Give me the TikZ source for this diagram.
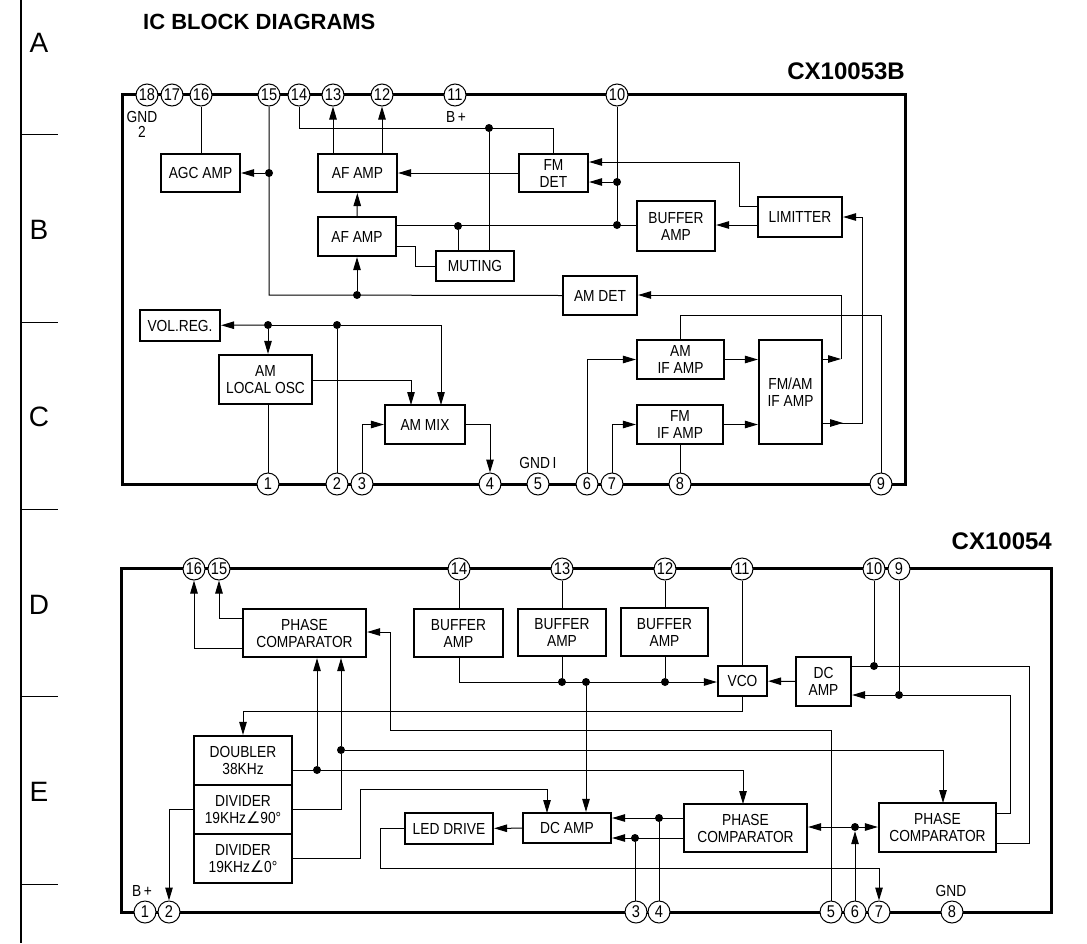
\documentclass[tikz,border=0pt]{standalone}
\usepackage{fontspec}
\setmainfont{Liberation Sans}
\newfontfamily\lettering[FakeStretch=0.86]{Liberation Sans}
\newfontfamily\anglefont{DejaVu Sans}
\usetikzlibrary{arrows.meta}

\begin{document}
\begin{tikzpicture}[
        x=1pt, y=-1pt,
        >={Triangle[length=13pt,width=7.5pt]},
        block/.style={rectangle, draw=black, line width=2.2pt, align=center, inner sep=0pt, font=\lettering\fontsize{16}{17}\selectfont},
        pinnode/.style={circle, draw=black, fill=white, line width=1pt, minimum size=22pt, inner sep=0pt, font=\lettering\fontsize{17}{17}\selectfont},
        joint/.style={circle, fill=black, inner sep=0pt, minimum size=8pt},
        chip/.style={line width=3pt, line join=miter},
        wire/.style={line width=1pt},
        arrow/.style={->, line width=1pt},
        pinlabel/.style={inner sep=0pt, align=center, font=\lettering\fontsize{16}{15}\selectfont},
        sideletter/.style={inner sep=0pt, font=\fontsize{28}{28}\selectfont},
        heading/.style={inner sep=0pt, font=\fontsize{22}{22}\selectfont\bfseries},
        chipname/.style={inner sep=0pt, font=\fontsize{24}{24}\selectfont\bfseries}
    ]
    \useasboundingbox (0,0) rectangle (1087,943);

    % page margin
    \draw[line width=1.5pt] (21,0) -- (21,943);
    \foreach \y in {134,322,509,696,884}
        \draw[line width=1pt] (21,\y) -- (58,\y);
    \node[sideletter] (la) at (39,43) {A};
    \node[sideletter] (lb) at (39,230) {B};
    \node[sideletter] (lc) at (39,417) {C};
    \node[sideletter] (ld) at (39,605) {D};
    \node[sideletter] (le) at (39,792) {E};
    \node[heading, anchor=west] (title) at (143,22) {IC BLOCK DIAGRAMS};
    \node[chipname, anchor=east] (namea) at (905,71) {CX10053B};
    \node[chipname, anchor=east] (nameb) at (1052,541) {CX10054};

    % CX10053B
    \draw[chip] (122,94) rectangle (905,484);
    \foreach \n/\x in {18/147,17/172,16/201,15/269,14/299,13/333,12/382,11/455,10/617}
        \node[pinnode] (a\n) at (\x,95) {\n};
    \foreach \n/\x in {1/268,2/337,3/362,4/490,5/538,6/587,7/612,8/680,9/881}
        \node[pinnode] (a\n) at (\x,484) {\n};
    \node[pinlabel] (gndb) at (142,124) {GND\\2};
    \node[pinlabel] (bplusa) at (456,117) {B\,+};
    \node[pinlabel] (gnda) at (538,463) {GND\,I};

    \node[block, minimum width=79pt, minimum height=38pt] (agc) at (200.5,173) {AGC AMP};
    \node[block, minimum width=79pt, minimum height=38pt] (afu) at (357.5,173) {AF AMP};
    \node[block, minimum width=78pt, minimum height=39pt] (afl) at (357,236.5) {AF AMP};
    \node[block, minimum width=78pt, minimum height=30pt] (mute) at (475,266) {MUTING};
    \node[block, minimum width=69pt, minimum height=38pt] (fmdet) at (553.5,173) {FM\\DET};
    \node[block, minimum width=78pt, minimum height=50pt] (bufa) at (676,226) {BUFFER\\AMP};
    \node[block, minimum width=84pt, minimum height=40pt] (limit) at (800,217) {LIMITTER};
    \node[block, minimum width=74pt, minimum height=39pt] (amdet) at (600,295.5) {AM DET};
    \node[block, minimum width=87pt, minimum height=39pt] (amif) at (680.5,359.5) {AM\\IF AMP};
    \node[block, minimum width=86pt, minimum height=39pt] (fmif) at (680,424.5) {FM\\IF AMP};
    \node[block, minimum width=63pt, minimum height=104pt] (mixif) at (790.5,392) {FM/AM\\IF AMP};
    \node[block, minimum width=80pt, minimum height=31pt] (vol) at (180,325.5) {VOL.REG.};
    \node[block, minimum width=93pt, minimum height=49pt] (osc) at (265.5,379.5) {AM\\LOCAL OSC};
    \node[block, minimum width=80pt, minimum height=39pt] (ammix) at (425,424.5) {AM MIX};

    \node[joint] (j15) at (269,173) {};
    \node[joint] (jaf) at (357,295) {};
    \node[joint] (j14) at (489,128) {};
    \node[joint] (jmute) at (458,226) {};
    \node[joint] (j10a) at (617,182) {};
    \node[joint] (j10b) at (617,225) {};
    \node[joint] (jvol) at (268,325) {};
    \node[joint] (j2) at (337,325) {};

    \draw[wire] (a16) -- (a16 |- agc.north);
    \draw[wire] (a15) -- (a15 |- 0,295) -- (amdet.west);
    \draw[arrow] (j15) -- (agc);
    \draw[arrow] (jaf) -- (afl);
    \draw[wire] (a14) -- (a14 |- 0,128) -- (fmdet.north |- 0,128) -- (fmdet.north);
    \draw[wire] (j14) -- (j14 |- mute.north);
    \draw[arrow] (a13 |- afu.north) -- (a13);
    \draw[arrow] (a12 |- afu.north) -- (a12);
    \draw[arrow] (fmdet) -- (afu);
    \draw[arrow] (afl) -- (afu);
    \draw[wire] (afl.east |- j10b) -- (bufa.west |- j10b);
    \draw[wire] (jmute) -- (jmute |- mute.north);
    \draw[wire] (a10) -- (j10b);
    \draw[arrow] (j10a) -- (fmdet.east |- j10a);
    \draw[wire] (afl.east |- 0,246) -- (415,246) -- (415,266) -- (mute.west);
    \draw[arrow] (limit.west |- 0,206) -- (739,206) -- (739,162) -- (fmdet.east |- 0,162);
    \draw[arrow] (limit.west |- j10b) -- (bufa.east |- j10b);
    \coordinate (ifa) at (841,359);
    \coordinate (ifb) at (843,423);
    \draw[arrow] (mixif.east |- ifa) -- (ifa);
    \draw[arrow] (ifa) -- (841,295) -- (amdet.east |- 0,295);
    \draw[arrow] (mixif.east |- ifb) -- (ifb);
    \draw[arrow] (mixif.east |- ifb) -- (862,423) -- (862,217) -- (limit.east);
    \draw[wire] (amif.north) -- (amif.north |- 0,315) -- (881,315) -- (a9);
    \draw[arrow] (amif) -- (mixif.west |- amif);
    \draw[arrow] (fmif) -- (mixif.west |- fmif);
    \draw[wire] (fmif) -- (a8);
    \draw[arrow] (a6) -- (a6 |- amif) -- (amif);
    \draw[arrow] (a7) -- (a7 |- fmif) -- (fmif);
    \draw[wire] (a1 |- osc.south) -- (a1);
    \draw[arrow] (jvol) -- (vol);
    \draw[arrow] (jvol) -- (jvol |- osc.north);
    \draw[wire] (a2) -- (j2);
    \draw[wire] (jvol) -- (j2);
    \draw[arrow] (j2) -- (441,325) -- (441,405);
    \draw[arrow] (osc.east |- 0,380) -- (411,380) -- (411,405);
    \draw[arrow] (a3) -- (a3 |- ammix) -- (ammix);
    \draw[arrow] (ammix.east) -- (a4 |- ammix) -- (a4);

    % CX10054
    \draw[chip] (121,568) rectangle (1051,912);
    \foreach \n/\x in {16/194,15/219,14/459,13/562,12/665,11/742,10/874,9/899}
        \node[pinnode] (b\n) at (\x,569) {\n};
    \foreach \n/\x in {1/145,2/169,3/636,4/659,5/831,6/855,7/879,8/952}
        \node[pinnode] (b\n) at (\x,912) {\n};
    \node[pinlabel] (bplusb) at (142,891) {B\,+};
    \node[pinlabel] (gndc) at (951,891) {GND};

    \node[block, minimum width=123pt, minimum height=48pt] (pca) at (304.5,633) {PHASE\\COMPARATOR};
    \node[block, minimum width=89pt, minimum height=48pt] (buf14) at (458.5,633) {BUFFER\\AMP};
    \node[block, minimum width=88pt, minimum height=47pt] (buf13) at (562,632.5) {BUFFER\\AMP};
    \node[block, minimum width=87pt, minimum height=48pt] (buf12) at (664.5,632) {BUFFER\\AMP};
    \node[block, minimum width=49pt, minimum height=30pt] (vco) at (742.5,681) {VCO};
    \node[block, minimum width=55pt, minimum height=49pt] (dcs) at (823.5,681.5) {DC\\AMP};
    \node[block, minimum width=98pt, minimum height=49pt] (dbl) at (243,760.5) {DOUBLER\\38KHz};
    \node[block, minimum width=98pt, minimum height=49pt] (divn) at (243,809.5) {DIVIDER\\19KHz{\anglefont ∠}90°};
    \node[block, minimum width=98pt, minimum height=49pt] (divz) at (243,858.5) {DIVIDER\\19KHz{\anglefont ∠}0°};
    \node[block, minimum width=88pt, minimum height=31pt] (led) at (449,828.5) {LED DRIVE};
    \node[block, minimum width=88pt, minimum height=30pt] (dcb) at (567,828) {DC AMP};
    \node[block, minimum width=123pt, minimum height=48pt] (pcb) at (745.5,828) {PHASE\\COMPARATOR};
    \node[block, minimum width=117pt, minimum height=49pt] (pcc) at (937.5,827.5) {PHASE\\COMPARATOR};

    \node[joint] (j13) at (562,682) {};
    \node[joint] (jdc) at (586,682) {};
    \node[joint] (j12) at (665,682) {};
    \node[joint] (jdiv) at (341,750) {};
    \node[joint] (jdbl) at (317,770) {};
    \node[joint] (j4) at (659,818) {};
    \node[joint] (j3) at (635,838) {};
    \node[joint] (j6) at (855,827) {};
    \node[joint] (jtena) at (874,666) {};
    \node[joint] (jnine) at (899,695) {};

    \draw[arrow] (pca.west |- 0,648) -- (b16 |- 0,648) -- (b16);
    \draw[arrow] (pca.west |- 0,618) -- (b15 |- 0,618) -- (b15);
    \draw[wire] (b14) -- (b14 |- buf14.north);
    \draw[wire] (b13) -- (b13 |- buf13.north);
    \draw[wire] (b12) -- (b12 |- buf12.north);
    \draw[wire] (b11) -- (b11 |- vco.north);
    \draw[arrow] (b14 |- buf14.south) -- (b14 |- j13) -- (vco.west |- j13);
    \draw[wire] (j13) -- (j13 |- buf13.south);
    \draw[wire] (j12) -- (j12 |- buf12.south);
    \draw[arrow] (jdc) -- (jdc |- dcb.north);
    \draw[arrow] (dcs) -- (vco);
    \draw[arrow] (b11 |- vco.south) -- (742,711) -- (243,711) -- (dbl.north);
    \draw[arrow] (b5) -- (831,730) -- (390,730) -- (390,632) -- (pca.east |- 0,632);
    \draw[arrow] (jdiv) -- (jdiv |- pca.south);
    \draw[arrow] (jdiv) -- (943,750) -- (943,803);
    \draw[wire] (divn.east) -- (341,809.5) -- (jdiv);
    \draw[arrow] (dbl.east |- jdbl) -- (743,770) -- (743,804);
    \draw[arrow] (jdbl) -- (jdbl |- pca.south);
    \draw[arrow] (divz.east) -- (360,858.5) -- (360,789) -- (547,789) -- (547,813);
    \draw[arrow] (divn.west) -- (169,809.5) -- (b2);
    \draw[arrow] (dcb) -- (led);
    \draw[wire] (led.west) -- (380,828.5) -- (380,868) -- (879,868);
    \draw[arrow] (879,868) -- (b7);
    \draw[arrow] (pcb.west |- j4) -- (dcb.east |- j4);
    \draw[arrow] (pcb.west |- j3) -- (dcb.east |- j3);
    \draw[wire] (j4) -- (b4);
    \draw[wire] (j3) -- (j3 |- b3.north);
    \draw[arrow] (j6) -- (pcb.east |- j6);
    \draw[arrow] (j6) -- (pcc.west |- j6);
    \draw[arrow] (b6) -- (j6);
    \draw[wire] (b10) -- (jtena);
    \draw[wire] (b9) -- (jnine);
    \draw[wire] (dcs.east |- jtena) -- (1029,666) -- (1029,843) -- (pcc.east |- 0,843);
    \draw[wire] (pcc.east |- 0,813) -- (1010,813) -- (1010,695) -- (jnine);
    \draw[arrow] (jnine) -- (dcs.east |- jnine);
\end{tikzpicture}
\end{document}
